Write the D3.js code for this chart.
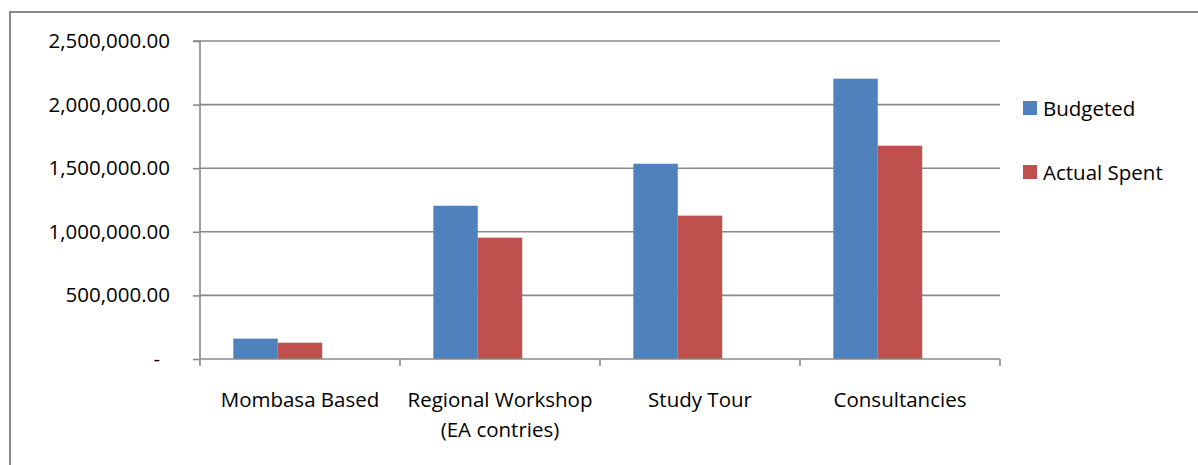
<!DOCTYPE html>
<html>
<head>
<meta charset="utf-8">
<script src="https://cdn.jsdelivr.net/npm/d3@7"></script>
<style>
  html, body { margin: 0; padding: 0; background: #fff; }
  svg { display: block; }
  text { font-family: "Open Sans", sans-serif; fill: #000; }
</style>
</head>
<body>
<svg id="chart" width="1198" height="465"></svg>
<script>
// ---- data ----
const categories = ["Mombasa Based", "Regional Workshop (EA contries)", "Study Tour", "Consultancies"];
const categoryLines = [["Mombasa Based"], ["Regional Workshop", "(EA contries)"], ["Study Tour"], ["Consultancies"]];
const seriesNames = ["Budgeted", "Actual Spent"];
const budgeted = [160000, 1205000, 1535000, 2204000];
const actualSpent = [128000, 954000, 1127000, 1677000];
const yTicks = [0, 500000, 1000000, 1500000, 2000000, 2500000];
const colors = ["#4F81BD", "#C0504D"];
// Excel cluster has a third (empty) series slot
const slots = ["Budgeted", "Actual Spent", "(empty)"];

const seriesValues = [budgeted, actualSpent];

const svg = d3.select("#chart");
const gridColor = "#898989";

// outer chart border
svg.append("rect")
  .attr("x", 10).attr("y", 12).attr("width", 1200).attr("height", 500)
  .attr("fill", "none").attr("stroke", "#8a8a8a").attr("stroke-width", 2);

const plot = { left: 200, right: 1000, top: 41, bottom: 359 };

const x0 = d3.scaleBand().domain(categories).range([plot.left, plot.right]).padding(0);
const x1 = d3.scaleBand().domain(slots).range([0, x0.bandwidth()]).paddingInner(0).paddingOuter(0.75);
const y = d3.scaleLinear().domain([0, 2500000]).range([plot.bottom, plot.top]);

// gridlines
svg.append("g").selectAll("line").data(yTicks.filter(d => d > 0)).join("line")
  .attr("x1", plot.left).attr("x2", plot.right)
  .attr("y1", d => y(d)).attr("y2", d => y(d))
  .attr("stroke", gridColor).attr("stroke-width", 1.6);

// bars
seriesNames.forEach((s, si) => {
  svg.append("g").selectAll("rect").data(categories).join("rect")
    .attr("x", c => x0(c) + x1(s))
    .attr("width", x1.bandwidth())
    .attr("y", (c, i) => y(seriesValues[si][i]))
    .attr("height", (c, i) => y(0) - y(seriesValues[si][i]))
    .attr("fill", colors[si]);
});

// y axis
const yAxis = d3.axisLeft(y).tickValues(yTicks)
  .tickFormat(d => d === 0 ? "-" : d3.format(",.2f")(d))
  .tickSize(7).tickPadding(23);
const gy = svg.append("g").attr("transform", `translate(${plot.left},0)`).call(yAxis);
gy.select(".domain").attr("stroke", gridColor).attr("stroke-width", 1.6).attr("d", `M-7,${plot.top}H0V${plot.bottom}`);
gy.selectAll(".tick line").attr("stroke", gridColor).attr("stroke-width", 1.6);
gy.selectAll(".tick text")
  .style("font-family", "'Open Sans', sans-serif").style("font-size", "20.5px").attr("fill", "#000")
  .attr("dx", d => d === 0 ? -10 : 0);

// x axis
const gx = svg.append("g");
gx.append("line").attr("x1", plot.left).attr("x2", plot.right)
  .attr("y1", y(0)).attr("y2", y(0)).attr("stroke", gridColor).attr("stroke-width", 1.6);
const bounds = categories.map(c => x0(c)).concat([x0(categories[categories.length - 1]) + x0.bandwidth()]);
gx.selectAll("line.tick").data(bounds).join("line").attr("class", "tick")
  .attr("x1", d => d).attr("x2", d => d)
  .attr("y1", y(0)).attr("y2", y(0) + 7)
  .attr("stroke", gridColor).attr("stroke-width", 1.6);

const labels = gx.selectAll("text.cat").data(categories).join("text").attr("class", "cat")
  .attr("text-anchor", "middle")
  .style("font-size", "20.5px");
labels.each(function(c, i) {
  const t = d3.select(this);
  categoryLines[i].forEach((line, li) => {
    t.append("tspan").attr("x", x0(c) + x0.bandwidth() / 2).attr("y", 407 + li * 30).text(line);
  });
});

// legend
const legend = svg.append("g");
seriesNames.forEach((s, i) => {
  const ly = 101 + i * 64;
  legend.append("rect").attr("x", 1023).attr("y", ly).attr("width", 14).attr("height", 14).attr("fill", colors[i]);
  legend.append("text").attr("x", 1043).attr("y", ly + 14.5).style("font-size", "20.5px").text(s);
});
</script>
</body>
</html>
